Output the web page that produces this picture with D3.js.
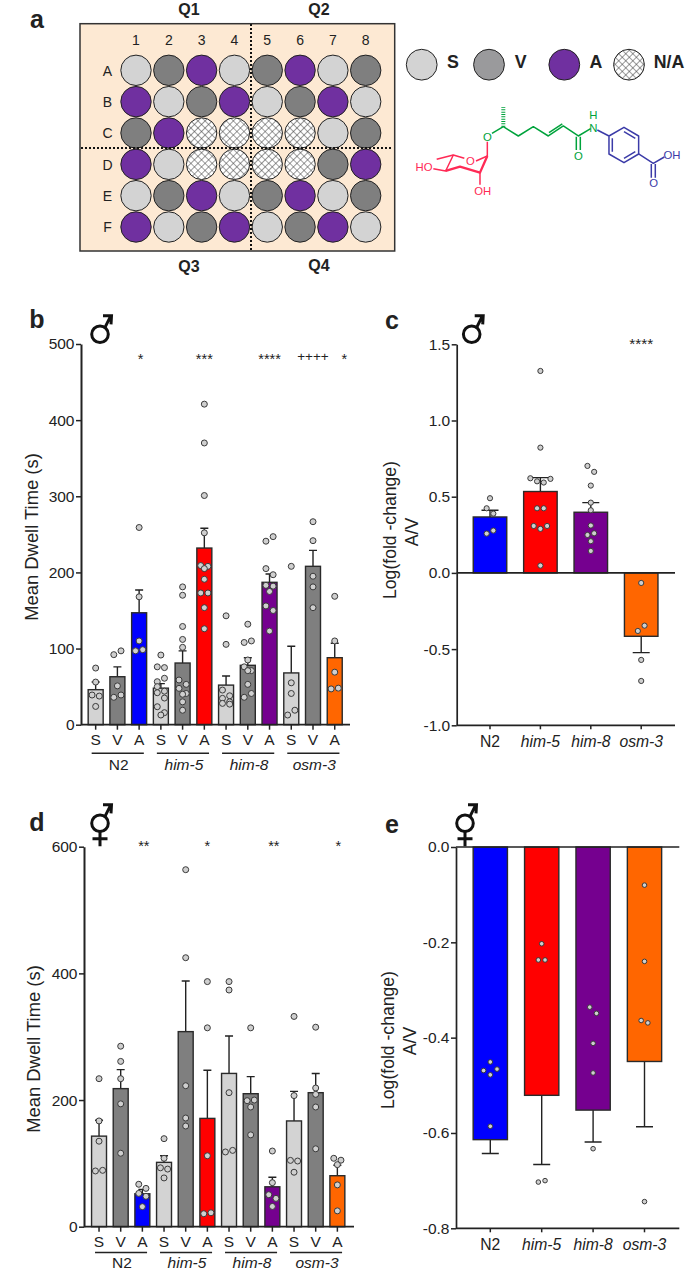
<!DOCTYPE html>
<html>
<head>
<meta charset="utf-8">
<script src="https://cdn.jsdelivr.net/npm/d3@7"></script>
<style>
  html, body { margin: 0; padding: 0; background: #fff; }
  text { font-family: "Liberation Sans", Arial, sans-serif; fill: #222; }
</style>
</head>
<body>
<script>
// Plate layout (panel a)
const plateCols = ["1", "2", "3", "4", "5", "6", "7", "8"];
const plateRows = ["A", "B", "C", "D", "E", "F"];
const plateWells = [
  "SVASVASV",
  "ASVASVAS",
  "VANNNNSV",
  "ASNNNNVA",
  "SVASVASV",
  "ASVASVAS"
];
const legendKeys = ["S", "V", "A", "N/A"];

// Shared categories
const strains = ["N2", "him-5", "him-8", "osm-3"];
const conditions = ["S", "V", "A"];

// Panel b, males, mean dwell time
const bMeans = [46, 63, 147, 48, 81, 232, 52, 78, 187, 68, 208, 88];
const bSems = [56, 76, 177, 54, 97, 258, 64, 88, 198, 103, 229, 107];
const bPoints = [
  [74.4, 56, 39, 37.6, 24],
  [92, 97, 51, 36, 39],
  [259, 168, 110, 97, 98.5],
  [91.5, 76, 75, 56.5, 61, 50, 44, 42, 35, 23.6, 12.7, 15.8],
  [181, 170, 129, 112, 101.6, 58.7, 53, 47.7, 40, 41, 30, 19],
  [421, 370, 301, 252, 209, 208, 205, 191, 173, 173, 153.7, 126],
  [143, 105.5, 45.5, 38, 34.6, 30, 28, 27],
  [132, 108, 110, 85, 76, 71, 71, 53, 36, 41],
  [241, 247, 205, 197, 183, 182, 175, 156, 150, 123],
  [208, 55, 41, 12.7, 19],
  [266.6, 241.7, 195, 181, 153.7],
  [168.6, 110, 69, 47, 48]
];
const bSigBars = [2, 5, 8, 10, 11];
const bSigLabels = ["*", "***", "****", "++++", "*"];

// Panel c, males, log fold change
const cMeans = [0.367, 0.534, 0.398, -0.416];
const cSems = [0.411, 0.625, 0.461, -0.523];
const cPoints = [
  [0.49, 0.424, 0.389, 0.258, 0.278],
  [1.325, 0.822, 0.621, 0.601, 0.593, 0.617, 0.424, 0.424, 0.308, 0.289, 0.308, 0.048],
  [0.702, 0.663, 0.573, 0.461, 0.411, 0.311, 0.249, 0.26, 0.208, 0.144],
  [-0.066, -0.381, -0.346, -0.571, -0.709]
];

// Panel d, hermaphrodites, mean dwell time
const dMeans = [143, 218, 52, 101.6, 308, 171, 242, 210, 63, 167, 211.6, 80.5];
const dSems = [168, 248, 59, 112, 388, 247, 301, 237, 78, 213.7, 242, 97];
const dPoints = [
  [233.7, 167, 135, 88, 89],
  [285, 261, 233.7, 194, 116],
  [67, 60.5, 52.6, 48, 31.6],
  [139, 108, 93, 91, 77],
  [563.7, 424.7, 222.6, 159, 171.6],
  [387, 314, 112, 20.5, 22],
  [387, 373.7, 211.6, 118, 120.5],
  [314, 199, 200, 189, 145],
  [119.5, 69.5, 50.5, 32, 44.7],
  [332, 207, 104.7, 103.7, 86],
  [315, 209, 219, 189, 123],
  [108, 105, 98, 66, 25]
];
const dSigBars = [2, 5, 8, 11];
const dSigLabels = ["**", "*", "**", "*"];

// Panel e, hermaphrodites, log fold change
const eMeans = [-0.614, -0.521, -0.552, -0.45];
const eSems = [-0.643, -0.666, -0.619, -0.587];
const ePoints = [
  [-0.451, -0.469, -0.478, -0.466, -0.586],
  [-0.203, -0.237, -0.237, -0.703, -0.7],
  [-0.336, -0.349, -0.412, -0.474, -0.633],
  [-0.08, -0.24, -0.364, -0.369, -0.744]
];

const wellColors = { S: "#d3d3d3", V: "#7f7f7f", A: "#7030a0", N: "url(#hatch)" };
const legendColors = { S: "#d3d3d3", V: "#9a9a9c", A: "#7030a0", "N/A": "url(#hatch)" };
const strainColors = ["#0000ff", "#ff0000", "#75008f", "#ff6600"];
const inkColor = "#222";

const svg = d3.select("body").append("svg")
  .attr("width", 685)
  .attr("height", 1270)
  .style("display", "block");

// Cross hatch used for the empty wells
const hatch = svg.append("defs").append("pattern")
  .attr("id", "hatch")
  .attr("patternUnits", "userSpaceOnUse")
  .attr("width", 5)
  .attr("height", 5)
  .attr("patternTransform", "rotate(45)");
hatch.append("rect").attr("width", 5).attr("height", 5).attr("fill", "#fff");
hatch.append("path").attr("d", "M0 0H5M0 0V5").attr("stroke", "#444").attr("stroke-width", 1.1);

function label(txt, x, y, size, opts = {}) {
  return svg.append("text")
    .attr("x", x)
    .attr("y", y)
    .attr("dy", "0.35em")
    .attr("text-anchor", opts.anchor || "middle")
    .attr("font-size", size)
    .attr("font-weight", opts.weight || "normal")
    .attr("font-style", opts.style || "normal")
    .text(txt);
}

function rotatedLabel(txt, x, y, size) {
  return label(txt, 0, 0, size).attr("transform", `translate(${x},${y}) rotate(-90)`);
}

// Panel letters
label("a", 37, 19, 25, { weight: "bold" });
label("b", 37, 319, 25, { weight: "bold" });
label("c", 392, 320, 25, { weight: "bold" });
label("d", 37, 822, 25, { weight: "bold" });
label("e", 392, 824, 25, { weight: "bold" });

// ---- Panel a: plate ----
const colScale = d3.scalePoint().domain(plateCols).range([136, 365.7]);
const rowScale = d3.scalePoint().domain(plateRows).range([70.3, 227]);

svg.append("rect")
  .attr("x", 80).attr("y", 23.7)
  .attr("width", 314.7).attr("height", 227.3)
  .attr("fill", "#fde9d3")
  .attr("stroke", "#333")
  .attr("stroke-width", 1.5);

plateRows.forEach((row, r) => {
  svg.append("g").selectAll("circle")
    .data(plateCols)
    .join("circle")
    .attr("cx", d => colScale(d))
    .attr("cy", rowScale(row))
    .attr("r", 15.2)
    .attr("fill", (d, c) => wellColors[plateWells[r][c]])
    .attr("stroke", "#222")
    .attr("stroke-width", 1);
  label(row, 107.5, rowScale(row) + 0.5, 14);
});
plateCols.forEach(c => label(c, colScale(c), 40, 14));

// Quadrant dividers
svg.append("path")
  .attr("d", "M251 24V251M81 148H393")
  .attr("fill", "none")
  .attr("stroke", "#111")
  .attr("stroke-width", 2)
  .attr("stroke-dasharray", "2,2");

label("Q1", 189, 9, 16, { weight: "bold" });
label("Q2", 319, 9.5, 16, { weight: "bold" });
label("Q3", 189, 266, 16, { weight: "bold" });
label("Q4", 319, 265, 16, { weight: "bold" });

// Legend
const legendCircleX = d3.scaleOrdinal().domain(legendKeys).range([421.7, 489, 564.3, 629]);
const legendTextX = d3.scaleOrdinal().domain(legendKeys).range([453, 520.7, 596, 669]);
legendKeys.forEach(k => {
  svg.append("circle")
    .attr("cx", legendCircleX(k))
    .attr("cy", 64.7)
    .attr("r", 15.4)
    .attr("fill", legendColors[k])
    .attr("stroke", "#222")
    .attr("stroke-width", 1);
  label(k, legendTextX(k), 62, 17.8, { weight: "bold" });
});

// Molecule sketch, drawn on a 3x grid and scaled down
const mol = svg.append("g").attr("transform", "translate(400,30) scale(0.3333)");
function bonds(d, color, width = 4.5) {
  return mol.append("path").attr("d", d).attr("fill", "none")
    .attr("stroke", color).attr("stroke-width", width).attr("stroke-linejoin", "round");
}
function atom(txt, x, y, color) {
  mol.append("text").attr("x", x).attr("y", y).attr("dy", "0.35em")
    .attr("text-anchor", "middle").attr("font-size", 34)
    .style("fill", color).text(txt);
}
const molGreen = "#00a33c", molRed = "#ff2a55", molBlue = "#3b3ba8";
bonds("M310 290L310 232", molGreen, 12).attr("stroke-dasharray", "3,4");
bonds("M276 310L310 290L355 318L400 290L445 318L490 288L535 318L572 296", molGreen);
bonds("M447 308L487 282", molGreen);
bonds("M529 320V360M541 320V360", molGreen);
atom("O", 262, 321, molGreen);
atom("O", 535, 377, molGreen);
atom("N", 580, 294, molGreen);
atom("H", 580, 255, molGreen);
bonds("M592 300L627 318L672 292L716 318V372L672 398L627 372V318", molBlue);
bonds("M637 325V365M672 305L706 325M672 385L706 365", molBlue);
bonds("M716 372L760 400L793 381", molBlue);
bonds("M754 402V443M766 402V443", molBlue);
atom("OH", 816, 375, molBlue);
atom("O", 761, 459, molBlue);
bonds("M262 335V378L228 393M193 385L160 375L137 423L100 416", molRed);
bonds("M160 375L110 388", molRed);
bonds("M137 423L180 410L240 428L262 378", molRed, 7);
bonds("M240 428V464", molRed);
atom("O", 211, 394, molRed);
atom("HO", 72, 411, molRed);
atom("OH", 248, 484, molRed);

// ---- Bar panels ----
// Points that fall in the same row are spread sideways, in the order they were listed
function swarm(values, y, maxRow, gap, spacing) {
  const order = d3.range(values.length).sort((a, b) => y(values[a]) - y(values[b]));
  const out = [];
  let i = 0;
  while (i < order.length) {
    const start = y(values[order[i]]);
    const row = [];
    while (i < order.length && row.length < maxRow && y(values[order[i]]) - start <= gap) {
      row.push(order[i]);
      i++;
    }
    row.sort(d3.ascending);
    row.forEach((idx, k) => out.push({ v: values[idx], dx: (k - (row.length - 1) / 2) * spacing }));
  }
  return out;
}

function barPanel(cfg) {
  const n = cfg.means.length;
  const x = d3.scaleBand().domain(d3.range(n)).range(cfg.xRange).paddingInner(cfg.pad).paddingOuter(cfg.pad / 2);
  const y = d3.scaleLinear().domain(cfg.yDomain).range(cfg.yRange);
  const mid = i => x(i) + x.bandwidth() / 2;
  const g = svg.append("g");

  // error bars first, the bar sits on top of the lower half
  g.append("g").selectAll("path")
    .data(d3.range(n))
    .join("path")
    .attr("d", i => `M${mid(i)} ${y(cfg.means[i])}V${y(cfg.sems[i])}M${mid(i) - cfg.cap} ${y(cfg.sems[i])}H${mid(i) + cfg.cap}`)
    .attr("fill", "none")
    .attr("stroke", inkColor)
    .attr("stroke-width", 1.4);

  g.append("g").selectAll("rect")
    .data(d3.range(n))
    .join("rect")
    .attr("x", i => x(i))
    .attr("width", x.bandwidth())
    .attr("y", i => Math.min(y(0), y(cfg.means[i])))
    .attr("height", i => Math.abs(y(cfg.means[i]) - y(0)))
    .attr("fill", i => cfg.color(i))
    .attr("stroke", "#2a2a2a")
    .attr("stroke-width", 1.4);

  // data points
  cfg.points.forEach((vals, i) => {
    g.append("g").selectAll("circle")
      .data(swarm(vals, y, cfg.maxRow, 6.2, cfg.spacing))
      .join("circle")
      .attr("cx", d => mid(i) + d.dx)
      .attr("cy", d => y(d.v))
      .attr("r", cfg.dot)
      .attr("fill", "#cfcfcf")
      .attr("stroke", "#3a3a3a")
      .attr("stroke-width", 1);
  });

  // value axis
  const yAxis = g.append("g")
    .attr("transform", `translate(${cfg.axisX},0)`)
    .call(d3.axisLeft(y).tickValues(cfg.yTicks).tickFormat(cfg.yFormat).tickSize(5).tickPadding(1.5).tickSizeOuter(0));
  yAxis.selectAll("text").attr("font-size", cfg.yFont);
  yAxis.select(".domain").attr("stroke", inkColor).attr("stroke-width", cfg.axisWidth);
  yAxis.selectAll(".tick line").attr("stroke", inkColor).attr("stroke-width", 1.5);

  // category axis
  const xAxis = g.append("g")
    .attr("transform", `translate(0,${cfg.xAxisY})`)
    .call(d3.axisBottom(x).tickFormat(cfg.xFormat).tickSize(cfg.xTick).tickPadding(cfg.xPadding).tickSizeOuter(0));
  xAxis.select(".domain").attr("d", `M${cfg.axisX} 0H${cfg.xEnd}`)
    .attr("stroke", inkColor).attr("stroke-width", 1.7);
  xAxis.selectAll(".tick line").attr("stroke", inkColor).attr("stroke-width", 1.5);
  xAxis.selectAll("text").attr("font-size", cfg.xFont)
    .attr("font-style", i => cfg.xItalic && cfg.xItalic(i) ? "italic" : "normal");

  // zero line when the category axis is not at zero
  if (cfg.xAxisY !== y(0)) {
    g.append("line")
      .attr("x1", cfg.axisX).attr("x2", cfg.xEnd)
      .attr("y1", y(0)).attr("y2", y(0))
      .attr("stroke", inkColor).attr("stroke-width", 1.7);
  }

  // strain brackets under the S V A labels
  if (cfg.groups) {
    strains.forEach((s, k) => {
      const first = k * 3, last = k * 3 + 2;
      g.append("line")
        .attr("x1", mid(first) - 4).attr("x2", mid(last) + 4.7)
        .attr("y1", cfg.xAxisY + cfg.bracketDy).attr("y2", cfg.xAxisY + cfg.bracketDy)
        .attr("stroke", inkColor).attr("stroke-width", 1.4);
      label(s, mid(first + 1) + 1.3, cfg.xAxisY + cfg.groupDy, 15.5, { style: k ? "italic" : "normal" });
    });
  }

  // significance marks
  (cfg.sigBars || []).forEach((b, k) => {
    const t = cfg.sigLabels[k];
    const plus = t[0] === "+";
    const dx = (cfg.sigDx && cfg.sigDx[k]) || 0;
    svg.append("text")
      .attr("x", mid(b) + dx)
      .attr("y", plus ? cfg.sigY + 4.5 : cfg.sigY + 8)
      .attr("text-anchor", "middle")
      .attr("font-size", plus ? 13.5 : cfg.sigFont)
      .text(t);
  });
}

const isMean = i => i % 3 === 2;
const barColor = i => isMean(i) ? strainColors[(i - 2) / 3] : (i % 3 === 0 ? wellColors.S : wellColors.V);
const letterFormat = i => conditions[i % 3];
const oneDecimal = d => d.toFixed(1);

barPanel({
  means: bMeans, sems: bSems, points: bPoints,
  xRange: [84.8, 345.6], pad: 0.31,
  yDomain: [0, 500], yRange: [724.7, 344],
  yTicks: [0, 100, 200, 300, 400, 500], yFormat: d3.format("d"), yFont: 15.5,
  axisX: 81, axisWidth: 2, xAxisY: 724.7, xEnd: 350, xTick: 5, xPadding: 4, xFont: 15.5,
  xFormat: letterFormat, groups: true, bracketDy: 28.6, groupDy: 39.6, color: barColor,
  cap: 4, dot: 3, spacing: 7.2, maxRow: 2,
  sigBars: bSigBars, sigLabels: bSigLabels, sigDx: [1.5, 0, 0, 0, 9.5], sigY: 356, sigFont: 14.5
});

barPanel({
  means: cMeans, sems: cSems, points: cPoints,
  xRange: [464.8, 666.4], pad: 0.335,
  yDomain: [-1, 1.5], yRange: [725.3, 344.3],
  yTicks: [-1, -0.5, 0, 0.5, 1, 1.5], yFormat: oneDecimal, yFont: 15.5,
  axisX: 456.7, axisWidth: 1.7, xAxisY: 725.3, xEnd: 675, xTick: 4, xPadding: 7, xFont: 15.7,
  xFormat: i => strains[i], xItalic: i => i > 0, color: i => strainColors[i],
  cap: 8.5, dot: 2.6, spacing: 6.7, maxRow: 4,
  sigBars: [3], sigLabels: ["****"], sigY: 340.7, sigFont: 15.4
});

barPanel({
  means: dMeans, sems: dSems, points: dPoints,
  xRange: [88.2, 348.2], pad: 0.31,
  yDomain: [0, 600], yRange: [1226.7, 846.7],
  yTicks: [0, 200, 400, 600], yFormat: d3.format("d"), yFont: 15.5,
  axisX: 84, axisWidth: 2, xAxisY: 1226.7, xEnd: 354, xTick: 5, xPadding: 4, xFont: 15.5,
  xFormat: letterFormat, groups: true, bracketDy: 25.8, groupDy: 36, color: barColor,
  cap: 4, dot: 3, spacing: 7.2, maxRow: 2,
  sigBars: dSigBars, sigLabels: dSigLabels, sigDx: [1.5, 0, 1.5, 1], sigY: 842.7, sigFont: 14.5
});

barPanel({
  means: eMeans, sems: eSems, points: ePoints,
  xRange: [464.6, 670.2], pad: 0.333,
  yDomain: [-0.8, 0], yRange: [1228.3, 847],
  yTicks: [-0.8, -0.6, -0.4, -0.2, 0], yFormat: oneDecimal, yFont: 15.5,
  axisX: 456, axisWidth: 1.7, xAxisY: 1228.3, xEnd: 679.3, xTick: 4, xPadding: 7, xFont: 15.7,
  xFormat: i => strains[i], xItalic: i => i > 0, color: i => strainColors[i],
  cap: 8.5, dot: 2.3, spacing: 6.7, maxRow: 4
});

// Axis titles
rotatedLabel("Mean Dwell Time (s)", 31.7, 537, 18.4);
rotatedLabel("Log(fold -change)", 390, 530, 17.6);
rotatedLabel("A/V", 412, 532, 17.6);
rotatedLabel("Mean Dwell Time (s)", 34, 1049, 18.4);
rotatedLabel("Log(fold -change)", 388, 1040, 17.6);
rotatedLabel("A/V", 410, 1041, 17.6);

// Sex symbols, circle with arrow and for hermaphrodites a cross below
function sexSymbol(cx, cy, herm) {
  const s = svg.append("g")
    .attr("transform", `translate(${cx},${cy})`)
    .attr("fill", "none")
    .attr("stroke", "#111")
    .attr("stroke-width", 3);
  s.append("circle").attr("r", 8.3);
  s.append("path").attr("d", "M5 -7L11 -19M3 -18.6H11.5L11 -10");
  if (herm) s.append("path").attr("d", "M0 8V23M-7.5 15.5H7.5");
}
sexSymbol(100, 334.3, false);
sexSymbol(471.7, 334.3, false);
sexSymbol(100, 823.3, true);
sexSymbol(465, 823.3, true);
</script>
</body>
</html>
